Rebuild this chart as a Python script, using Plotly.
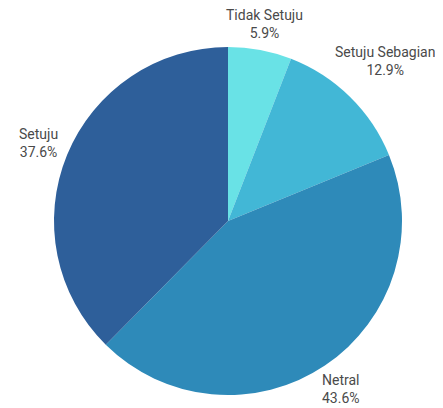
import math
import plotly.graph_objects as go

labels = ["Tidak Setuju", "Setuju Sebagian", "Netral", "Setuju"]
values = [5.9, 12.9, 43.6, 37.6]
colors = ["#69e2e6", "#42b7d6", "#2e8ab9", "#2e5f9a"]

# figure geometry (pixels in figure coordinates)
W, H = 443, 408
ML, MT, D = 46, 39, 348
MR, MB = W - ML - D, H - MT - D
R = D / 2
CX, CY = ML + R, MT + R

fig = go.Figure(go.Pie(
    labels=labels,
    values=values,
    sort=False,
    direction="clockwise",
    rotation=0,
    marker=dict(colors=colors, line=dict(width=0)),
    textinfo="none",
    hoverinfo="label+percent",
    showlegend=False,
    automargin=False,
))

# outside labels placed along each slice's mid-angle
total = sum(values)
cum = 0.0
GAP = 8
CHAR_W, HALF_H = 6.6, 11.0
annotations = []
for lab, v in zip(labels, values):
    mid = (cum + v / 2) / total * 2 * math.pi
    cum += v
    dx, dy = math.sin(mid), -math.cos(mid)
    pct = f"{v / total * 100:.1f}%"
    half_w = max(len(lab), len(pct)) * CHAR_W / 2
    dist = R + GAP + abs(dx) * half_w + abs(dy) * HALF_H
    px, py = CX + dist * dx, CY + dist * dy
    annotations.append(dict(
        x=(px - ML) / D, y=1 - (py - MT) / D,
        xref="paper", yref="paper",
        xanchor="center", yanchor="middle",
        text=f"{lab}<br>{pct}", showarrow=False, align="center",
        font=dict(family="Roboto", size=14, color="#4a4a4a"),
    ))

fig.update_layout(
    width=W, height=H,
    margin=dict(l=ML, r=MR, t=MT, b=MB),
    paper_bgcolor="white",
    plot_bgcolor="white",
    annotations=annotations,
)
fig.write_html("out.html")
